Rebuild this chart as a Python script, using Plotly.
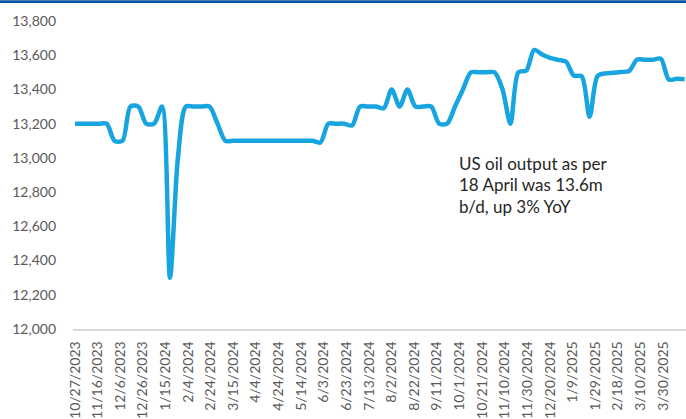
import pandas as pd
import plotly.graph_objects as go

# Weekly US crude oil output (thousand b/d), weeks ending Friday
start_week = "2023-10-27"
end_week = "2025-04-18"
output_kbd = [
    13200, 13200, 13200, 13200, 13200, 13100, 13100, 13300, 13300, 13200,
    13200, 13300, 12300, 13000, 13300, 13300, 13300, 13300, 13200, 13100,
    13100, 13100, 13100, 13100, 13100, 13100, 13100, 13100, 13100, 13100,
    13100, 13090, 13200, 13200, 13200, 13190, 13300, 13300, 13300, 13290,
    13400, 13300, 13400, 13300, 13300, 13300, 13200, 13200, 13300, 13400,
    13500, 13500, 13500, 13500, 13400, 13200, 13500, 13510, 13631, 13604,
    13585, 13573, 13563, 13481, 13477, 13240, 13478, 13494, 13497, 13502,
    13508, 13575, 13573, 13574, 13580, 13458, 13462, 13460,
]
weeks = pd.date_range(start_week, end_week, freq="7D")

note_lines = ["US oil output as per", "18 April was 13.6m", "b/d, up 3% YoY"]

fig = go.Figure()
fig.add_trace(go.Scatter(
    x=weeks, y=output_kbd, mode="lines",
    line=dict(color="#18A5DF", width=4.5, shape="spline", smoothing=0.8),
    hoverinfo="skip", showlegend=False,
))

fig.update_layout(
    width=686, height=419,
    margin=dict(l=73, r=0, t=21, b=88),
    paper_bgcolor="white", plot_bgcolor="white",
    font=dict(family="Lato", color="#595959"),
    xaxis=dict(
        type="date",
        range=["2023-10-25 06:00", "2025-04-19 05:00"],
        tick0="2023-10-27", dtick=20 * 86400000,
        tickformat="%-m/%-d/%Y", tickangle=-90,
        tickfont=dict(size=14, color="#595959"),
        showgrid=False, zeroline=False,
        showline=True, linecolor="#D9D9D9", linewidth=1.5,
        ticks="", ticklabelstandoff=5,
    ),
    yaxis=dict(
        range=[12000, 13800], dtick=200, tickformat=",",
        tickfont=dict(size=14, color="#595959"),
        showgrid=False, zeroline=False, showline=False,
        ticks="", ticklabelstandoff=16,
    ),
    shapes=[dict(
        type="rect", xref="paper", yref="paper",
        x0=-73 / 613, x1=1, y0=1 + 18 / 310, y1=1 + 21 / 310,
        fillcolor="#0B56A4", line=dict(width=0), layer="above",
    )],
)

line_px = [164, 186, 208]
for txt, ypx in zip(note_lines, line_px):
    fig.add_annotation(
        text=txt, xref="paper", yref="paper", x=(458 - 73) / 613,
        y=(331 - ypx) / 310,
        xanchor="left", yanchor="middle", showarrow=False, borderpad=0,
        font=dict(family="Lato", size=17, color="#262626"),
    )

fig.write_html("out.html")
